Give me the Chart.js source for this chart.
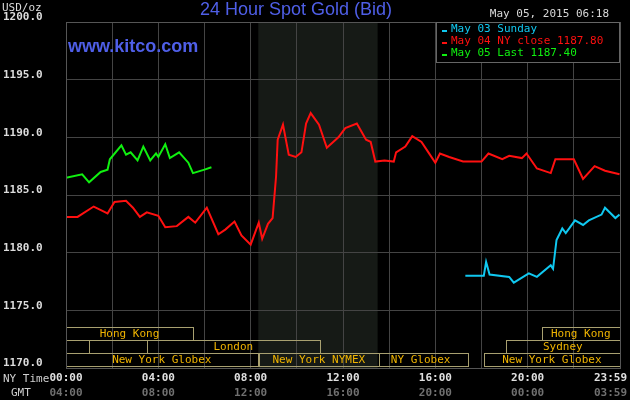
<!DOCTYPE html>
<html>
<head>
<meta charset="utf-8">
<script src="https://cdn.jsdelivr.net/npm/chart.js@4.4.0/dist/chart.umd.min.js"></script>
<style>
  html, body { margin: 0; padding: 0; background: #000; }
  #wrap { width: 630px; height: 400px; }
</style>
</head>
<body>
<div id="wrap"><canvas id="goldChart"></canvas></div>
<script>
// hours since 00:00 NY time
var redHours = [0, 0.5, 1.2, 1.6, 1.8, 2.1, 2.6, 2.9, 3.2, 3.5, 4.0, 4.3, 4.8, 5.3, 5.6, 6.1, 6.6, 6.9, 7.3, 7.6, 8.0, 8.35, 8.5, 8.75, 8.95, 9.05, 9.1, 9.17, 9.4, 9.65, 9.95, 10.2, 10.4, 10.6, 10.96, 11.3, 11.8, 12.1, 12.6, 13.0, 13.2, 13.4, 13.8, 14.2, 14.3, 14.7, 15.0, 15.4, 15.7, 16.0, 16.2, 16.6, 17.2, 18.0, 18.3, 18.9, 19.2, 19.75, 19.95, 20.4, 21.0, 21.2, 22.0, 22.4, 22.9, 23.35, 23.98];
var redPrices = [1183.1, 1183.1, 1184.0, 1183.6, 1183.4, 1184.4, 1184.5, 1183.9, 1183.1, 1183.5, 1183.2, 1182.2, 1182.3, 1183.1, 1182.6, 1183.9, 1181.6, 1182.0, 1182.7, 1181.5, 1180.7, 1182.6, 1181.2, 1182.5, 1183.0, 1185.4, 1186.6, 1189.8, 1191.1, 1188.5, 1188.3, 1188.7, 1191.2, 1192.1, 1191.1, 1189.1, 1190.0, 1190.8, 1191.2, 1189.8, 1189.6, 1187.9, 1188.0, 1187.9, 1188.7, 1189.2, 1190.1, 1189.6, 1188.7, 1187.8, 1188.6, 1188.3, 1187.9, 1187.9, 1188.6, 1188.1, 1188.4, 1188.2, 1188.6, 1187.3, 1186.9, 1188.1, 1188.1, 1186.4, 1187.5, 1187.1, 1186.8];

var greenHours = [0, 0.7, 1.0, 1.5, 1.8, 1.9, 2.4, 2.6, 2.8, 3.1, 3.35, 3.65, 3.9, 4.0, 4.3, 4.5, 4.9, 5.3, 5.5, 6.0, 6.3];
var greenPrices = [1186.5, 1186.8, 1186.1, 1187.0, 1187.2, 1188.1, 1189.3, 1188.5, 1188.7, 1188.0, 1189.2, 1188.0, 1188.6, 1188.3, 1189.4, 1188.2, 1188.7, 1187.8, 1186.9, 1187.2, 1187.4];

var cyanHours = [17.3, 18.1, 18.2, 18.35, 19.2, 19.4, 20.05, 20.4, 21.0, 21.1, 21.25, 21.5, 21.65, 21.8, 22.05, 22.4, 22.65, 23.2, 23.35, 23.8, 23.98];
var cyanPrices = [1178.0, 1178.0, 1179.2, 1178.1, 1177.9, 1177.4, 1178.2, 1177.9, 1178.9, 1178.6, 1181.1, 1182.1, 1181.7, 1182.1, 1182.8, 1182.4, 1182.8, 1183.3, 1183.9, 1183.0, 1183.3];

var yTicks = [1200, 1195, 1190, 1185, 1180, 1175, 1170];
var nyLabels = ['00:00', '04:00', '08:00', '12:00', '16:00', '20:00', '23:59'];
var gmtLabels = ['04:00', '08:00', '12:00', '16:00', '20:00', '00:00', '03:59'];
var labelHours = [0, 4, 8, 12, 16, 20, 24];

// trading sessions: [row, startHour, endHour, name, align]
var sessions = [
    [0, 0, 5.5, 'Hong Kong', 'c'],
    [0, 20.6, 24, 'Hong Kong', 'c'],
    [1, 0, 1, '', 'c'],
    [1, 1, 3.5, '', 'c'],
    [1, 3.5, 11, 'London', 'c'],
    [1, 19.05, 24, 'Sydney', 'c'],
    [2, 0, 8.3, 'New York Globex', 'c'],
    [2, 8.35, 13.55, 'New York NYMEX', 'c'],
    [2, 13.55, 17.4, 'NY Globex', 'l'],
    [2, 18.1, 24, 'New York Globex', 'c']
];
var nymexBand = [8.33, 13.5];

function toPoints(hours, prices) {
    return hours.map(function (h, i) { return { x: h, y: prices[i] }; });
}

var mono = '"DejaVu Sans Mono", monospace';

var decorPlugin = {
    id: 'decor',
    beforeDatasetsDraw: function (chart) {
        var c = chart.ctx, xs = chart.scales.x, ys = chart.scales.y, a = chart.chartArea;
        c.save();
        // session boxes
        var rowTop = [327, 340, 353];
        c.font = '11px ' + mono;
        c.textBaseline = 'middle';
        sessions.forEach(function (s) {
            var x1 = xs.getPixelForValue(s[1]), x2 = xs.getPixelForValue(s[2]);
            var y1 = rowTop[s[0]];
            c.strokeStyle = '#a8a070';
            c.lineWidth = 1;
            c.strokeRect(Math.round(x1) + 0.5, y1 + 0.5, Math.round(x2 - x1), 13);
            if (s[3]) {
                c.fillStyle = '#f0b400';
                if (s[4] === 'l') {
                    c.textAlign = 'left';
                    c.fillText(s[3], x1 + 12, y1 + 7);
                } else {
                    c.textAlign = 'center';
                    c.fillText(s[3], (x1 + x2) / 2, y1 + 7);
                }
            }
        });
        c.restore();
    },
    beforeDraw: function (chart) {
        var c = chart.ctx, xs = chart.scales.x, a = chart.chartArea;
        c.save();
        c.fillStyle = '#000';
        c.fillRect(0, 0, chart.width, chart.height);
        var b1 = xs.getPixelForValue(nymexBand[0]), b2 = xs.getPixelForValue(nymexBand[1]);
        c.fillStyle = '#161a16';
        c.fillRect(b1, a.top, b2 - b1, a.bottom - a.top);
        c.restore();
    },
    afterDraw: function (chart) {
        var c = chart.ctx, xs = chart.scales.x, ys = chart.scales.y, a = chart.chartArea;
        c.save();
        c.strokeStyle = '#555';
        c.lineWidth = 1;
        c.strokeRect(a.left + 0.5, a.top + 0.5, a.right - a.left, a.bottom - a.top);
        // y labels
        c.font = 'bold 11px ' + mono;
        c.fillStyle = '#dcdcdc';
        c.textAlign = 'left';
        c.textBaseline = 'bottom';
        yTicks.forEach(function (v) {
            c.fillText(v.toFixed(1), 3, ys.getPixelForValue(v) + 1);
        });
        c.font = '11px ' + mono;
        c.textBaseline = 'top';
        c.fillText('USD/oz', 2, 3);
        // x labels
        c.font = 'bold 11px ' + mono;
        labelHours.forEach(function (h, i) {
            var px = xs.getPixelForValue(h);
            c.textAlign = i === labelHours.length - 1 ? 'right' : 'center';
            if (i === labelHours.length - 1) px = 627;
            c.fillStyle = '#e0e0e0';
            c.fillText(nyLabels[i], px, 373);
            c.fillStyle = '#707070';
            c.fillText(gmtLabels[i], px, 388);
        });
        c.font = '11px ' + mono;
        c.textAlign = 'left';
        c.fillStyle = '#d0d0d0';
        c.fillText('NY Time', 3, 374);
        c.fillText('GMT', 11, 388);
        // title
        c.font = '18px "Liberation Sans", Arial, sans-serif';
        c.fillStyle = '#4f5fe8';
        c.textAlign = 'center';
        c.fillText('24 Hour Spot Gold (Bid)', 296, 1);
        c.font = 'bold 18px "Liberation Sans", Arial, sans-serif';
        c.textAlign = 'left';
        c.fillText('www.kitco.com', 68, 38);
        // date
        c.font = '11px ' + mono;
        c.fillStyle = '#d8d8d8';
        c.textAlign = 'right';
        c.fillText('May 05, 2015 06:18', 609, 9);
        // legend
        c.fillStyle = '#000';
        c.fillRect(436, 22, 183, 40);
        c.strokeStyle = '#666';
        c.strokeRect(436.5, 22.5, 183, 40);
        var legend = [['May 03 Sunday', '#10c8f0'], ['May 04 NY close 1187.80', '#ff1010'], ['May 05 Last 1187.40', '#10f010']];
        c.textAlign = 'left';
        legend.forEach(function (l, i) {
            c.fillStyle = l[1];
            c.fillRect(442, 30 + i * 12, 5, 2);
            c.fillText(l[0], 451, 24 + i * 12);
        });
        c.restore();
    }
};

var ctx = document.getElementById('goldChart').getContext('2d');
var goldChart = new Chart(ctx, {
    type: 'line',
    data: {
        datasets: [{
            data: toPoints(cyanHours, cyanPrices),
            borderColor: '#10c8f0',
            borderWidth: 2
        }, {
            data: toPoints(redHours, redPrices),
            borderColor: '#ff1010',
            borderWidth: 2
        }, {
            data: toPoints(greenHours, greenPrices),
            borderColor: '#10f010',
            borderWidth: 2
        }]
    },
    options: {
        responsive: true,
        maintainAspectRatio: false,
        animation: false,
        layout: { padding: { left: 66, right: 10, top: 22, bottom: 32 } },
        elements: { point: { radius: 0 }, line: { tension: 0 } },
        plugins: { legend: { display: false }, tooltip: { enabled: false } },
        scales: {
            x: {
                type: 'linear',
                min: 0,
                max: 24,
                ticks: { display: false, stepSize: 2 },
                grid: { color: '#444', drawTicks: false },
                border: { display: false }
            },
            y: {
                min: 1170,
                max: 1200,
                ticks: { display: false, stepSize: 5 },
                grid: { color: '#444', drawTicks: false },
                border: { display: false }
            }
        }
    },
    plugins: [decorPlugin]
});
</script>
</body>
</html>
